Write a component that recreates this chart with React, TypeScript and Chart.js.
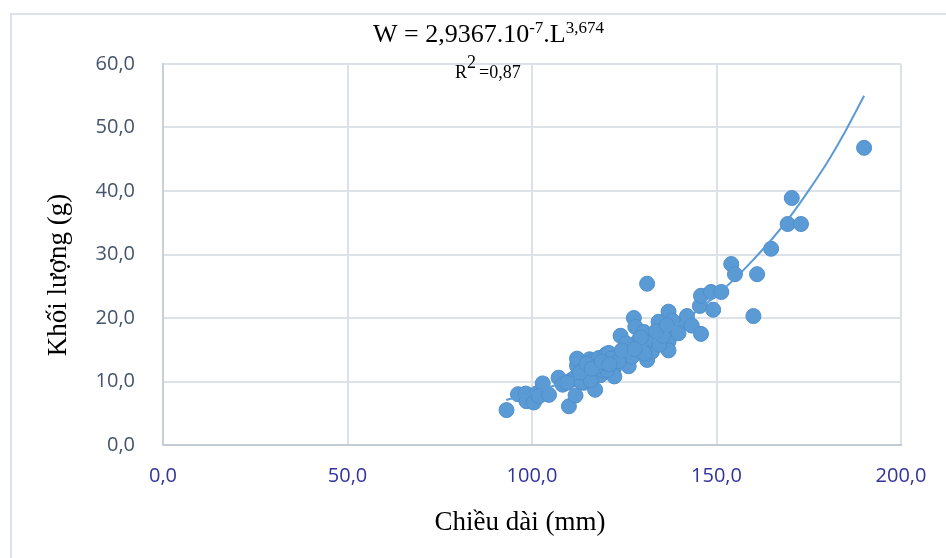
import React, { useEffect, useRef } from 'react';
import { Chart, registerables } from 'chart.js';

Chart.register(...registerables);

// Observed fish: length (mm) and weight (g)
const lengthMm = [
  93.1, 96.2, 98.3, 98.5, 100.5, 101.2, 102.9, 101.9, 104.6, 107.2,
  108.3, 110.0, 111.8, 110.9, 111.4, 112.2, 112.2, 114.1, 114.1, 115.6,
  116.8, 116.8, 117.1, 118.1, 118.6, 113.4, 115.9, 119.0, 120.1, 120.8,
  122.2, 122.3, 124.0, 124.9, 126.2, 126.2, 127.1, 127.6, 128.0, 128.9,
  128.9, 130.3, 131.2, 131.2, 131.6, 132.5, 133.0, 134.3, 136.1, 137.0,
  137.0, 137.0, 139.7, 139.7, 142.0, 143.3, 145.8, 145.5, 145.8, 148.5,
  149.1, 151.3, 154.0, 155.0, 160.0, 161.0, 164.8, 169.3, 170.4, 172.9,
  190.0, 120.3, 119.5, 121.5, 123.5, 125.5, 129.5, 130.5, 134.5, 135.5,
  138.0, 117.5, 113.0, 109.5, 114.8, 116.2, 118.9, 121.0, 124.3, 127.8,
  133.6, 136.5,
];
const weightG = [
  5.5, 8.0, 8.1, 6.9, 6.7, 8.1, 9.7, 7.7, 7.9, 10.6,
  9.5, 6.1, 7.8, 10.3, 10.5, 12.5, 13.6, 12.1, 9.8, 13.5,
  13.3, 11.3, 8.7, 13.7, 11.0, 9.9, 10.2, 11.8, 14.3, 14.5,
  12.1, 10.8, 17.2, 14.7, 15.7, 12.4, 13.9, 20.0, 18.6, 16.5,
  15.2, 17.8, 25.4, 13.4, 15.7, 14.7, 16.5, 19.4, 18.1, 21.0,
  16.3, 14.9, 18.9, 17.6, 20.3, 18.8, 17.5, 21.9, 23.5, 24.1,
  21.3, 24.1, 28.5, 26.9, 20.3, 26.9, 30.9, 34.8, 38.9, 34.8,
  46.8, 11.8, 12.9, 13.6, 13.2, 16.0, 16.9, 14.4, 15.8, 17.2,
  19.6, 12.4, 11.4, 9.8, 12.8, 12.0, 13.1, 12.7, 14.9, 15.1,
  17.9, 18.9,
];

// Trend line
const trendLengthMm = [93, 100, 110, 120, 130, 140, 150, 155, 160, 165, 170, 175, 180, 185, 190];
const trendWeightG = [7.1, 8.2, 10.2, 12.6, 15.5, 19.1, 23.6, 26.2, 29.2, 32.4, 36.0, 40.1, 44.5, 49.5, 55.0];

const xTickValues = [0, 50, 100, 150, 200];
const yTickValues = [0, 10, 20, 30, 40, 50, 60];

const fmt = (v: number) => Number(v).toFixed(1).replace('.', ',');

const SERIF = '"Liberation Serif", "Times New Roman", serif';
const SANS = '"Open Sans", "Noto Sans", sans-serif';

type Seg = { t: string; size: number; dy: number };

function drawSegs(ctx: CanvasRenderingContext2D, x: number, y: number, segs: Seg[]) {
  let cx = x;
  for (const s of segs) {
    ctx.font = `${s.size}px ${SERIF}`;
    ctx.fillText(s.t, cx, y + s.dy);
    cx += ctx.measureText(s.t).width;
  }
}

const overlay = {
  id: 'overlay',
  beforeDraw(chart: any) {
    const ctx = chart.ctx as CanvasRenderingContext2D;
    ctx.save();
    ctx.fillStyle = '#ffffff';
    ctx.fillRect(0, 0, chart.width, chart.height);
    ctx.restore();
  },
  afterDraw(chart: any) {
    const ctx = chart.ctx as CanvasRenderingContext2D;
    ctx.save();
    // outer chart border (only left/top visible)
    ctx.strokeStyle = '#dde1e8';
    ctx.lineWidth = 2;
    ctx.beginPath();
    ctx.moveTo(11, chart.height + 2);
    ctx.lineTo(11, 14);
    ctx.lineTo(chart.width + 2, 14);
    ctx.stroke();

    ctx.fillStyle = '#000000';
    ctx.textAlign = 'left';
    ctx.textBaseline = 'alphabetic';
    // equation
    drawSegs(ctx, 373, 42, [
      { t: 'W = 2,9367.10', size: 26, dy: 0 },
      { t: '-7', size: 17, dy: -9 },
      { t: '.L', size: 26, dy: 0 },
      { t: '3,674', size: 17, dy: -9 },
    ]);
    // R squared
    drawSegs(ctx, 455, 78, [
      { t: 'R', size: 18, dy: 0 },
      { t: '2', size: 18, dy: -10 },
    ]);
    ctx.font = `18px ${SERIF}`;
    ctx.fillText('=0,87', 479, 78);

    // axis titles
    ctx.font = `27px ${SERIF}`;
    ctx.textAlign = 'center';
    ctx.textBaseline = 'middle';
    ctx.fillText('Chiều dài (mm)', 520, 523);
    ctx.translate(59, 275);
    ctx.rotate(-Math.PI / 2);
    ctx.fillText('Khối lượng (g)', 0, 0);
    ctx.restore();
  },
};

export default function App() {
  const canvasRef = useRef<HTMLCanvasElement | null>(null);

  useEffect(() => {
    const canvas = canvasRef.current;
    if (!canvas) return;
    const points = lengthMm.map((x, i) => ({ x, y: weightG[i] }));
    const trend = trendLengthMm.map((x, i) => ({ x, y: trendWeightG[i] }));

    const chart = new Chart(canvas, {
      type: 'scatter',
      data: {
        datasets: [
          {
            type: 'line',
            label: 'Trend',
            data: trend,
            borderColor: '#5b9bd5',
            borderWidth: 2,
            pointRadius: 0,
            showLine: true,
            fill: false,
            cubicInterpolationMode: 'monotone',
            order: 0,
          } as any,
          {
            label: 'Data',
            data: points,
            backgroundColor: '#5b9bd5',
            borderColor: '#4f8fcc',
            borderWidth: 1,
            pointRadius: 7.5,
            order: 1,
          },
        ],
      },
      options: {
        responsive: false,
        devicePixelRatio: 1,
        animation: false,
        layout: { padding: { left: 0, top: 64, right: 45, bottom: 0 } },
        plugins: {
          legend: { display: false },
          tooltip: { enabled: false },
          title: { display: false },
        },
        scales: {
          x: {
            type: 'linear',
            min: 0,
            max: 200,
            afterBuildTicks: (s: any) => {
              s.ticks = xTickValues.map((v) => ({ value: v }));
            },
            afterFit: (s: any) => {
              s.height = 113;
            },
            ticks: {
              callback: (v: any) => fmt(v),
              color: '#333399',
              font: { family: SANS, size: 20 },
              padding: 19,
              maxRotation: 0,
              autoSkip: false,
            },
            grid: { color: '#dde1e8', lineWidth: 2, drawTicks: false },
            border: { color: '#c3cad6', width: 2 },
          },
          y: {
            type: 'linear',
            min: 0,
            max: 60,
            afterBuildTicks: (s: any) => {
              s.ticks = yTickValues.map((v) => ({ value: v }));
            },
            afterFit: (s: any) => {
              s.width = 163;
            },
            ticks: {
              callback: (v: any) => fmt(v),
              color: '#44546a',
              font: { family: SANS, size: 20 },
              padding: 28,
              autoSkip: false,
            },
            grid: { color: '#dde1e8', lineWidth: 2, drawTicks: false },
            border: { color: '#c8cfda', width: 2 },
          },
        },
      },
      plugins: [overlay],
    });

    return () => chart.destroy();
  }, []);

  return (
    <div style={{ position: 'absolute', left: 0, top: 0, width: 946, height: 558, background: '#fff' }}>
      <canvas ref={canvasRef} width={946} height={558} style={{ display: 'block' }} />
    </div>
  );
}
